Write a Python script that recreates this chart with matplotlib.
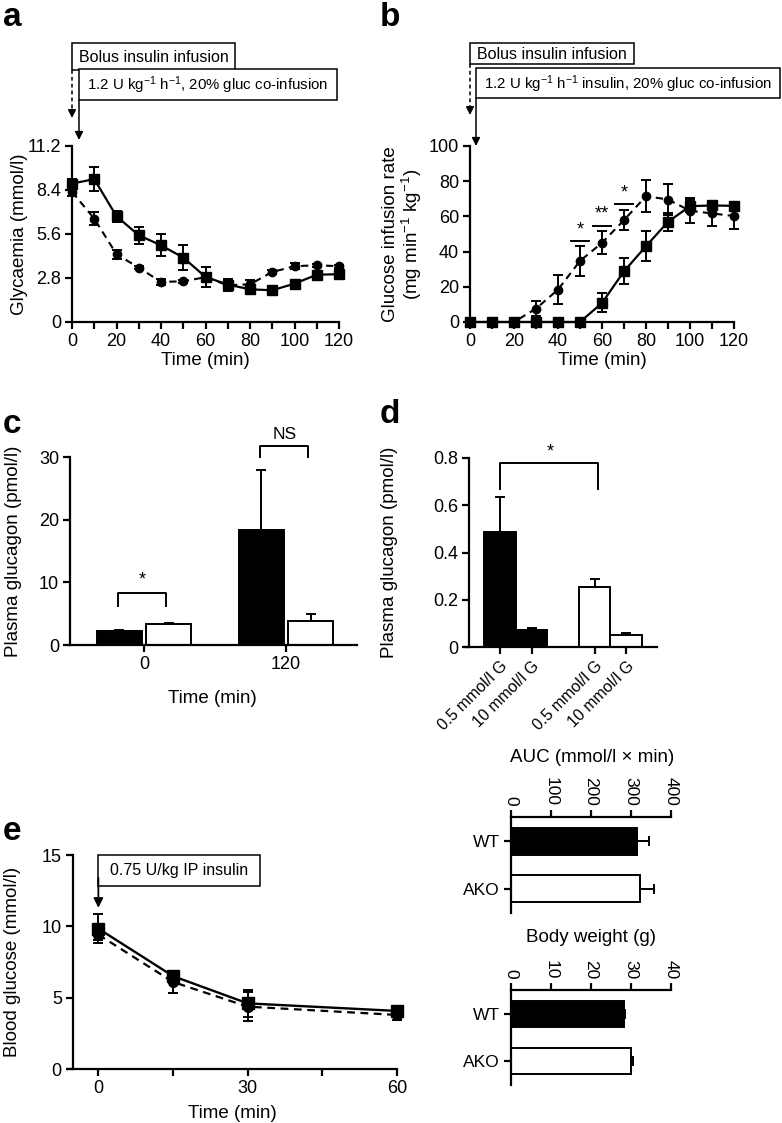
import matplotlib
matplotlib.use("Agg")
import matplotlib.pyplot as plt
from matplotlib.patches import Rectangle
from matplotlib.ticker import MultipleLocator, FixedLocator

plt.rcParams['font.family'] = ['Liberation Sans', 'DejaVu Sans']
plt.rcParams['mathtext.fontset'] = 'custom'
plt.rcParams['mathtext.rm'] = 'Liberation Sans'
plt.rcParams['mathtext.it'] = 'Liberation Sans:italic'
plt.rcParams['mathtext.bf'] = 'Liberation Sans:bold'

# ---------------- data ----------------
# panel a: glycaemia during clamp
time_clamp = [0, 10, 20, 30, 40, 50, 60, 70, 80, 90, 100, 110, 120]
glyc_sq = [8.81, 9.09, 6.73, 5.52, 4.88, 4.10, 2.87, 2.38, 2.08, 2.02, 2.44, 3.01, 3.04]
glyc_sq_err = [0.3, 0.78, 0.35, 0.55, 0.7, 0.82, 0.63, 0.38, 0.3, 0.12, 0.25, 0.15, 0.15]
glyc_ci = [8.28, 6.58, 4.31, 3.46, 2.55, 2.59, 2.85, 2.34, 2.40, 3.18, 3.55, 3.61, 3.55]
glyc_ci_err = [0.25, 0.42, 0.3, 0.1, 0.2, 0.1, 0.2, 0.2, 0.3, 0.1, 0.2, 0.1, 0.1]
a_yticks = [0, 2.8, 5.6, 8.4, 11.2]
a_yticklabels = ['0', '2.8', '5.6', '8.4', '11.2']

# panel b: glucose infusion rate
gir_ci = [0, 0, 0, 7.6, 18.4, 34.7, 45.0, 57.9, 71.5, 69.6, 63.2, 61.7, 60.2]
gir_ci_err = [0, 0, 0, 4.4, 8.2, 8.5, 6.6, 5.7, 9.0, 8.7, 7.0, 7.0, 7.4]
gir_sq = [0, 0, 0, 0, 0, 0, 10.8, 28.8, 43.1, 56.9, 65.8, 66.2, 66.0]
gir_sq_err = [0, 0, 0, 0, 0, 0, 5.4, 7.4, 8.5, 5.0, 3.5, 1.0, 1.0]
b_sig_x = [50, 60, 70]
b_sig_y = [45.9, 54.8, 66.8]
b_sig_txt = ['*', '**', '*']

# panel c: plasma glucagon in vivo
c_groups = ['0', '120']
c_black = [2.23, 18.4]
c_black_err = [0.15, 9.6]
c_white = [3.4, 3.78]
c_white_err = [0.15, 1.22]

# panel d: plasma glucagon in vitro
d_labels = ['0.5 mmol/l G', '10 mmol/l G', '0.5 mmol/l G', '10 mmol/l G']
d_pos = [0, 1, 3, 4]
d_vals = [0.488, 0.071, 0.253, 0.052]
d_err = [0.147, 0.010, 0.034, 0.007]
d_fill = ['black', 'black', 'white', 'white']

# panel e: insulin tolerance test
time_itt = [0, 15, 30, 60]
itt_sq = [9.84, 6.51, 4.60, 4.07]
itt_sq_err = [1.0, 0.3, 0.93, 0.3]
itt_ci = [9.42, 6.10, 4.37, 3.79]
itt_ci_err = [0.35, 0.8, 1.0, 0.35]

# AUC and body weight
geno = ['WT', 'AKO']
auc_vals = [316, 322]
auc_err = [30, 35]
bw_vals = [28.2, 30.1]
bw_err = [0.4, 0.5]

# ---------------- figure ----------------
W, H = 782, 1123
fig = plt.figure(figsize=(W / 100, H / 100), dpi=100)

TICK = 13
LAB = 13.5
LW = 1.6


def add_ax(x0, x1, y0, y1):
    return fig.add_axes([x0 / W, 1 - y1 / H, (x1 - x0) / W, (y1 - y0) / H])


def style(ax, top=False):
    for s in ['top', 'right']:
        ax.spines[s].set_visible(False)
    if top:
        ax.spines['top'].set_visible(True)
        ax.spines['bottom'].set_visible(False)
    for s in ax.spines.values():
        s.set_linewidth(LW)
    ax.tick_params(which='both', direction='out', length=5, width=LW, labelsize=TICK, pad=3)
    ax.patch.set_alpha(0)


def ylab_px(ax, text, xpix, x0, x1, **kw):
    ax.set_ylabel(text, fontsize=LAB, **kw)
    ax.yaxis.set_label_coords((xpix - x0) / (x1 - x0), 0.5)


def xlab_px(ax, text, ypix, y0, y1):
    ax.set_xlabel(text, fontsize=LAB)
    ax.xaxis.set_label_coords(0.5, (y1 - ypix) / (y1 - y0))


eb_kw = dict(capsize=3.5, elinewidth=1.4, capthick=1.4, color='black', clip_on=False)

# ---- panel a ----
ax_a = add_ax(72, 339, 146, 322)
style(ax_a)
ax_a.errorbar(time_clamp, glyc_ci, yerr=glyc_ci_err, fmt='o', ms=6, ls=(0, (3.5, 2.5)),
              lw=1.5, **eb_kw)
ax_a.errorbar(time_clamp, glyc_sq, yerr=glyc_sq_err, fmt='s', ms=6.5, ls='-', lw=1.6, **eb_kw)
ax_a.set_xlim(0, 120)
ax_a.set_ylim(0, 11.2)
ax_a.set_yticks(a_yticks)
ax_a.set_yticklabels(a_yticklabels)
ax_a.xaxis.set_major_locator(MultipleLocator(20))
ax_a.xaxis.set_minor_locator(MultipleLocator(10))
ylab_px(ax_a, 'Glycaemia (mmol/l)', 28, 72, 339)
xlab_px(ax_a, 'Time (min)', 352, 146, 322)

# ---- panel b ----
ax_b = add_ax(470, 734, 146, 322)
style(ax_b)
ax_b.errorbar(time_clamp, gir_ci, yerr=gir_ci_err, fmt='o', ms=6, ls=(0, (3.5, 2.5)),
              lw=1.5, **eb_kw)
ax_b.errorbar(time_clamp, gir_sq, yerr=gir_sq_err, fmt='s', ms=6.5, ls='-', lw=1.6, **eb_kw)
for sx, sy, st in zip(b_sig_x, b_sig_y, b_sig_txt):
    ax_b.plot([sx - 4.3, sx + 4.3], [sy, sy], color='black', lw=1.4, clip_on=False)
    ax_b.text(sx, sy + 1.5, st, ha='center', va='bottom', fontsize=13)
ax_b.set_xlim(0, 120)
ax_b.set_ylim(0, 100)
ax_b.yaxis.set_major_locator(MultipleLocator(20))
ax_b.xaxis.set_major_locator(MultipleLocator(20))
ax_b.xaxis.set_minor_locator(MultipleLocator(10))
ylab_px(ax_b, 'Glucose infusion rate\n(mg min$^{-1}$ kg$^{-1}$)', 424, 470, 734,
        linespacing=1.05)
xlab_px(ax_b, 'Time (min)', 352, 146, 322)

# ---- panel c ----
ax_c = add_ax(68, 357, 457, 645)
style(ax_c)
gx = list(range(len(c_groups)))
bw_c = 0.317
off = 0.173
ax_c.bar([g - off for g in gx], c_black, width=bw_c, color='black', edgecolor='black', lw=1.4)
ax_c.bar([g + off for g in gx], c_white, width=bw_c, color='white', edgecolor='black', lw=1.4)
ax_c.errorbar([g - off for g in gx], c_black, yerr=[[0] * 2, c_black_err], fmt='none', **eb_kw)
ax_c.errorbar([g + off for g in gx], c_white, yerr=[[0] * 2, c_white_err], fmt='none', **eb_kw)
ax_c.set_xlim(-0.535, 1.5)
ax_c.set_ylim(0, 30)
ax_c.spines['left'].set_position(('data', -0.52))
ax_c.yaxis.set_major_locator(MultipleLocator(10))
ax_c.set_xticks(gx)
ax_c.set_xticklabels(c_groups)
# significance brackets
ax_c.plot([-off - 0.01, -off - 0.01, off - 0.02, off - 0.02], [6.2, 8.3, 8.3, 6.2], color='black', lw=1.4)
ax_c.text(-0.01, 9.0, '*', ha='center', va='bottom', fontsize=13)
ax_c.plot([1 - off - 0.01, 1 - off - 0.01, 1 + off - 0.02, 1 + off - 0.02], [30.0, 31.7, 31.7, 30.0],
          color='black', lw=1.4, clip_on=False)
ax_c.text(1 - 0.01, 32.4, 'NS', ha='center', va='bottom', fontsize=12.5)
ylab_px(ax_c, 'Plasma glucagon (pmol/l)', 22, 68, 357)
xlab_px(ax_c, 'Time (min)', 690, 457, 645)

# ---- panel d ----
ax_d = add_ax(465, 657, 458, 647)
style(ax_d)
ax_d.bar(d_pos, d_vals, width=1.0, color=d_fill, edgecolor='black', lw=1.4)
ax_d.errorbar(d_pos, d_vals, yerr=[[0] * 4, d_err], fmt='none', **eb_kw)
ax_d.set_xlim(-1.11, 4.98)
ax_d.set_ylim(0, 0.8)
ax_d.spines['left'].set_position(('data', -0.98))
ax_d.set_yticks([0, 0.2, 0.4, 0.6, 0.8])
ax_d.set_yticklabels(['0', '0.2', '0.4', '0.6', '0.8'])
ax_d.set_xticks(d_pos)
ax_d.set_xticklabels(d_labels, rotation=45, ha='right', va='top', rotation_mode='anchor',
                     fontsize=11.5)
ax_d.plot([0, 0, 3.1, 3.1], [0.668, 0.779, 0.779, 0.668], color='black', lw=1.4)
ax_d.text(1.6, 0.79, '*', ha='center', va='bottom', fontsize=13)
ylab_px(ax_d, 'Plasma glucagon (pmol/l)', 398, 465, 657)

# ---- panel e ----
ax_e = add_ax(68, 397, 855, 1069)
style(ax_e)
ax_e.errorbar(time_itt, itt_ci, yerr=itt_ci_err, fmt='o', ms=7, ls=(0, (3.5, 2.5)),
              lw=1.6, **eb_kw)
ax_e.errorbar(time_itt, itt_sq, yerr=itt_sq_err, fmt='s', ms=8.5, ls='-', lw=1.7, **eb_kw)
ax_e.set_xlim(-6.1, 60)
ax_e.set_ylim(0, 15)
ax_e.spines['left'].set_position(('data', -5.1))
ax_e.yaxis.set_major_locator(MultipleLocator(5))
ax_e.xaxis.set_major_locator(FixedLocator([0, 30, 60]))
ax_e.xaxis.set_minor_locator(FixedLocator([15, 45]))
ax_e.add_patch(Rectangle((0, 12.8), 32.5, 2.2, facecolor='white', edgecolor='black', lw=1.1,
                         clip_on=False))
ax_e.text(16.3, 13.9, '0.75 U/kg IP insulin', ha='center', va='center', fontsize=11.5)
ax_e.annotate('', xy=(0, 11.3), xytext=(0, 13.4),
              arrowprops=dict(arrowstyle='-|>', color='black', lw=1.3, mutation_scale=14,
                              shrinkA=0, shrinkB=0))
ylab_px(ax_e, 'Blood glucose (mmol/l)', 21, 68, 397)
xlab_px(ax_e, 'Time (min)', 1105, 855, 1069)

# ---- AUC ----
ax_auc = add_ax(511, 671, 817, 913)
style(ax_auc, top=True)
ax_auc.barh([0, 1], auc_vals, height=0.57, color=['black', 'white'], edgecolor='black', lw=1.4)
ax_auc.errorbar(auc_vals, [0, 1], xerr=[[0, 0], auc_err], fmt='none', **eb_kw)
ax_auc.set_xlim(0, 400)
ax_auc.set_ylim(1.51, -0.51)
ax_auc.xaxis.set_major_locator(MultipleLocator(100))
ax_auc.xaxis.tick_top()
ax_auc.set_yticks([0, 1])
ax_auc.set_yticklabels(geno)
ax_auc.tick_params(axis='x', labelrotation=270, labelsize=12.5)
ax_auc.tick_params(axis='y', labelsize=12.5)
fig.text(592 / W, 1 - 758 / H, 'AUC (mmol/l \u00d7 min)', ha='center', va='center', fontsize=13.5)

# ---- body weight ----
ax_bw = add_ax(511, 671, 990, 1085)
style(ax_bw, top=True)
ax_bw.barh([0, 1], bw_vals, height=0.57, color=['black', 'white'], edgecolor='black', lw=1.4)
ax_bw.errorbar(bw_vals, [0, 1], xerr=[[0, 0], bw_err], fmt='none', **eb_kw)
ax_bw.set_xlim(0, 40)
ax_bw.set_ylim(1.51, -0.51)
ax_bw.xaxis.set_major_locator(MultipleLocator(10))
ax_bw.xaxis.tick_top()
ax_bw.set_yticks([0, 1])
ax_bw.set_yticklabels(geno)
ax_bw.tick_params(axis='x', labelrotation=270, labelsize=12.5)
ax_bw.tick_params(axis='y', labelsize=12.5)
fig.text(591 / W, 1 - 938 / H, 'Body weight (g)', ha='center', va='center', fontsize=13.5)

# ---- overlay for annotation boxes / panel letters ----
ov = fig.add_axes([0, 0, 1, 1])
ov.set_xlim(0, W)
ov.set_ylim(H, 0)
ov.axis('off')
ov.patch.set_alpha(0)


def box(x0, x1, y0, y1, text, fs=11.5):
    ov.add_patch(Rectangle((x0, y0), x1 - x0, y1 - y0, facecolor='white', edgecolor='black', lw=1.1))
    ov.text((x0 + x1) / 2, (y0 + y1) / 2 + 1, text, ha='center', va='center', fontsize=fs)


def arrow(x, y0, y1, dashed=False):
    if dashed:
        ov.plot([x, x], [y0, y1 - 8], color='black', lw=1.1, ls=(0, (2.5, 2)))
        ov.annotate('', xy=(x, y1), xytext=(x, y1 - 9),
                    arrowprops=dict(arrowstyle='-|>', color='black', lw=1.0, mutation_scale=12,
                                    shrinkA=0, shrinkB=0))
    else:
        ov.annotate('', xy=(x, y1), xytext=(x, y0),
                    arrowprops=dict(arrowstyle='-|>', color='black', lw=1.1, mutation_scale=12,
                                    shrinkA=0, shrinkB=0))


# panel a boxes
arrow(72, 70, 118, dashed=True)
box(72, 235, 43, 70, 'Bolus insulin infusion')
arrow(79, 100, 140)
box(79, 337, 69, 100, '1.2 U kg$^{-1}$ h$^{-1}$, 20% gluc co-infusion', fs=10.8)
# panel b boxes
arrow(470, 64, 115, dashed=True)
box(470, 634, 43, 64, 'Bolus insulin infusion')
arrow(476, 98, 146)
box(476, 780, 68, 98, '1.2 U kg$^{-1}$ h$^{-1}$ insulin, 20% gluc co-infusion', fs=10.8)

for letter, x, y in [('a', 3, 26), ('b', 380, 26), ('c', 3, 433), ('d', 380, 423), ('e', 3, 840)]:
    ov.text(x, y, letter, ha='left', va='baseline', fontsize=24, fontweight='bold')

fig.savefig('out.png', dpi=100)
